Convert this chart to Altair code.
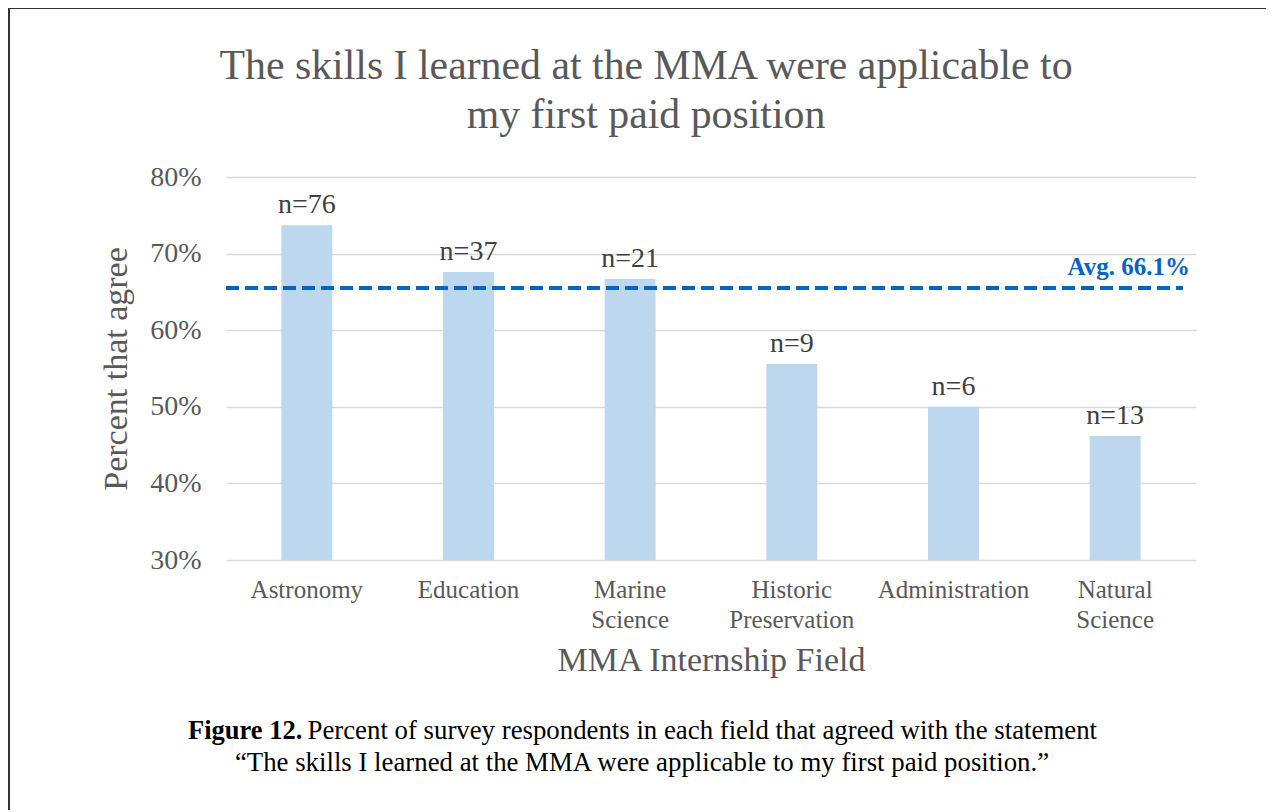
import altair as alt
import pandas as pd

# ---- data ----
fields = ["Astronomy", "Education", "Marine Science", "Historic Preservation",
          "Administration", "Natural Science"]
pct_agree = [73.7, 67.6, 66.7, 55.6, 50.0, 46.2]
n_resp = [76, 37, 21, 9, 6, 13]
avg_line = 65.5
avg_label = "Avg. 66.1%"
y_ticks = [30, 40, 50, 60, 70, 80]

title_lines = ["The skills I learned at the MMA were applicable to",
               "my first paid position"]
caption_bold = "Figure 12."
caption_rest = "Percent of survey respondents in each field that agreed with the statement"
caption_line2 = "\u201cThe skills I learned at the MMA were applicable to my first paid position.\u201d"

FONT = "Liberation Serif"
GREY = "#595959"
BAR = "#BDD7EE"
BLUE = "#0563C1"

df = pd.DataFrame({
    "field": fields,
    "pct": pct_agree,
    "label": [f"n={n}" for n in n_resp],
})
avg_df = pd.DataFrame({"pct": [avg_line], "label": [avg_label]})

W, H = 970, 383
OX, OY = 226, 177  # plot-area origin in page pixels

x_enc = alt.X(
    "field:N", sort=fields,
    scale=alt.Scale(paddingInner=0.685, paddingOuter=0.3425),
    axis=alt.Axis(
        title="MMA Internship Field", titleFontSize=34, titleColor=GREY,
        titleFont=FONT, titleFontWeight="normal", titlePadding=11,
        labelExpr="split(datum.label, ' ')", labelFontSize=25,
        labelLineHeight=30, labelColor=GREY, labelFont=FONT, labelAngle=0,
        labelPadding=17, ticks=False, domain=False, grid=False,
    ),
)
y_enc = alt.Y(
    "pct:Q",
    scale=alt.Scale(domain=[30, 80], zero=False, nice=False),
    axis=alt.Axis(
        title="Percent that agree", titleFontSize=34, titleColor=GREY,
        titleFont=FONT, titleFontWeight="normal", titlePadding=16,
        values=y_ticks, labelExpr="datum.value + '%'", labelFontSize=28,
        labelColor=GREY, labelFont=FONT, labelPadding=25,
        ticks=False, domain=False, grid=True, gridColor="#D9D9D9",
        gridWidth=1.5,
    ),
)

bars = alt.Chart(df).mark_bar(color=BAR).encode(
    x=x_enc, y=y_enc, y2=alt.datum(30)
)

nlabels = alt.Chart(df).mark_text(
    font=FONT, fontSize=28, color="#404040", baseline="alphabetic", dy=-12
).encode(x=alt.X("field:N", sort=fields), y="pct:Q", text="label:N")

avg_rule = alt.Chart(avg_df).mark_rule(
    color=BLUE, strokeWidth=4, strokeDash=[13, 6]
).encode(y="pct:Q", x=alt.value(0), x2=alt.value(957))

avg_text = alt.Chart(avg_df).mark_text(
    font=FONT, fontSize=25, fontWeight="bold", color=BLUE,
    align="right", baseline="alphabetic", dy=-13
).encode(y="pct:Q", x=alt.value(964), text="label:N")


def text_line(txt, x, y, size, weight="normal", align="center", color="black"):
    return alt.Chart(pd.DataFrame({"t": [txt]})).mark_text(
        font=FONT, fontSize=size, fontWeight=weight, color=color,
        align=align, baseline="alphabetic"
    ).encode(text="t:N", x=alt.value(x - OX), y=alt.value(y - OY))


title1 = text_line(title_lines[0], 646, 79, 41.8, color=GREY)
title2 = text_line(title_lines[1], 646, 128, 41.8, color=GREY)

CAP = 26.8
cap_bold = text_line(caption_bold, 188, 739, 26.5, weight="bold", align="left")
cap_rest = text_line(caption_rest, 1097, 739, CAP, align="right")
cap_2 = text_line(caption_line2, 642, 771, CAP)

border = alt.Chart(pd.DataFrame({"b": [0]})).mark_rect(
    fillOpacity=0, stroke="#333333", strokeWidth=2
).encode(
    x=alt.value(9 - OX), y=alt.value(8 - OY),
    x2=alt.value(1400), y2=alt.value(900),
)

chart = alt.layer(
    border, title1, title2, bars, nlabels, avg_rule, avg_text,
    cap_bold, cap_rest, cap_2
).properties(
    width=W, height=H,
    autosize=alt.AutoSizeParams(type="none"),
    padding={"left": OX - 8, "top": OY - 8, "right": 70, "bottom": 250},
).configure(background="white").configure_view(stroke=None)

chart.save("out.html", embed_options={"renderer": "svg", "actions": False})
